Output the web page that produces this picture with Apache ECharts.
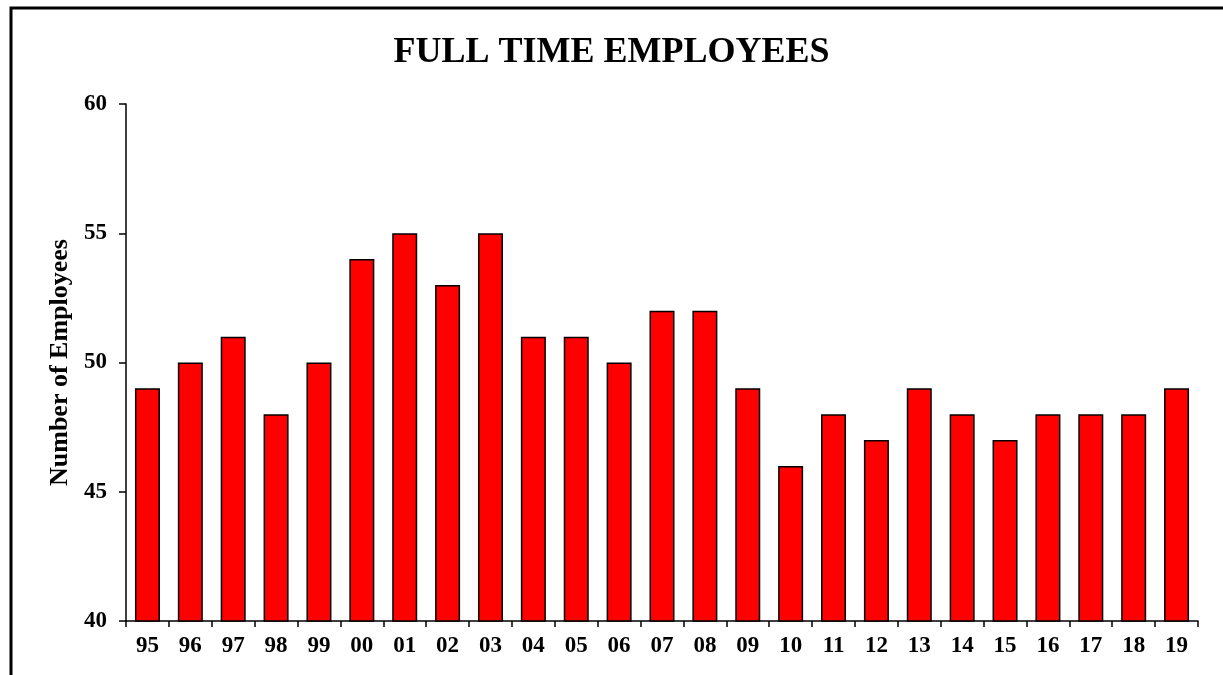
<!DOCTYPE html>
<html>
<head>
<meta charset="utf-8">
<script src="https://cdn.jsdelivr.net/npm/echarts@6/dist/echarts.min.js"></script>
<style>
  html, body { margin: 0; padding: 0; background: #fff; }
  #chart { width: 1223px; height: 675px; }
</style>
</head>
<body>
<div id="chart"></div>
<script>
// 年份（两位数）
const years = ['95', '96', '97', '98', '99', '00', '01', '02', '03', '04', '05', '06', '07',
    '08', '09', '10', '11', '12', '13', '14', '15', '16', '17', '18', '19'];
// 全职员工人数
const employees = [49, 50, 51, 48, 50, 54, 55, 53, 55, 51, 51, 50, 52,
    52, 49, 46, 48, 47, 49, 48, 47, 48, 48, 48, 49];

const serif = '"Liberation Serif", "Times New Roman", serif';

const chart = echarts.init(document.getElementById('chart'));

chart.setOption({
    animation: false,
    backgroundColor: '#fff',
    title: {
        text: 'FULL TIME EMPLOYEES',
        left: 'center',
        top: 30,
        textStyle: { fontFamily: serif, fontWeight: 'bold', fontSize: 36, color: '#000' }
    },
    grid: { left: 126, right: 25, top: 104, bottom: 54 },
    xAxis: {
        type: 'category',
        data: years,
        axisLine: { lineStyle: { color: '#000', width: 1.5 } },
        axisTick: { show: true, alignWithLabel: false, length: 6, lineStyle: { color: '#000', width: 1.5 } },
        axisLabel: { fontFamily: serif, fontWeight: 'bold', fontSize: 23, color: '#000', margin: 14 }
    },
    yAxis: {
        type: 'value',
        min: 40,
        max: 60,
        interval: 5,
        name: 'Number of Employees',
        nameLocation: 'middle',
        nameGap: 53,
        nameTextStyle: { fontFamily: serif, fontWeight: 'bold', fontSize: 26, color: '#000' },
        axisLine: { show: true, lineStyle: { color: '#000', width: 1.5 } },
        axisTick: { show: true, length: 7, lineStyle: { color: '#000', width: 1.5 } },
        axisLabel: { fontFamily: serif, fontWeight: 'bold', fontSize: 23, color: '#000', margin: 19 },
        splitLine: { show: false }
    },
    series: [{
        type: 'bar',
        data: employees,
        barWidth: 25,
        itemStyle: { color: '#ff0000', borderColor: '#000', borderWidth: 1.5 }
    }],
    graphic: [
        // 外框：只有上边和左边
        {
            type: 'polyline',
            shape: { points: [[11, 675], [11, 8], [1223, 8]] },
            style: { stroke: '#000', lineWidth: 3, fill: null }
        }
    ]
});
</script>
</body>
</html>
